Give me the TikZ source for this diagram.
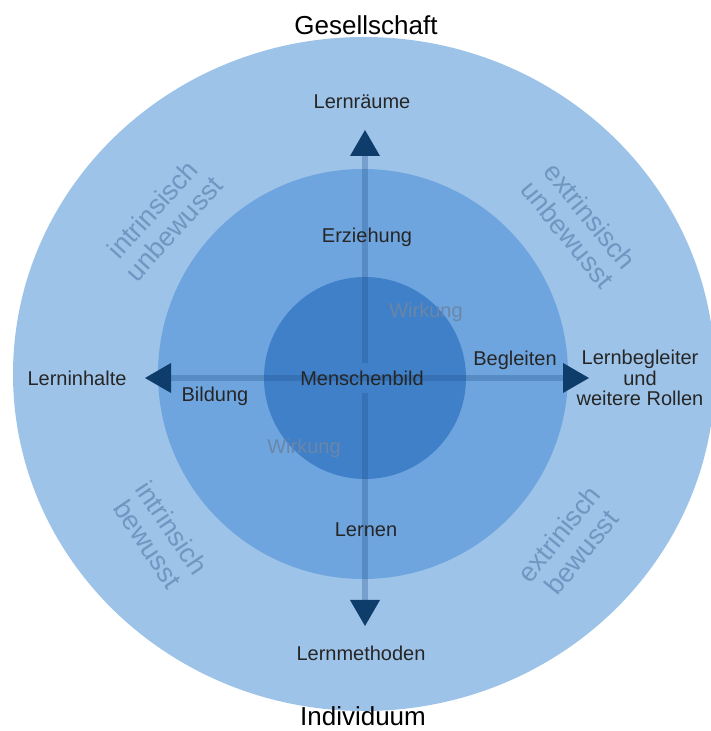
\documentclass[tikz,border=0pt]{standalone}
\usepackage{fontspec}
\setmainfont{Liberation Sans}
\usetikzlibrary{arrows.meta}

\definecolor{ringouter}{HTML}{9DC3E8}
\definecolor{ringmid}{HTML}{6FA5DF}
\definecolor{ringinner}{HTML}{3F80C8}
\definecolor{axisline}{HTML}{1E4F88}
\definecolor{tipblue}{HTML}{0F3D6B}
\definecolor{quadtext}{HTML}{7096C2}
\definecolor{effect}{HTML}{6A86A8}

\begin{document}
\begin{tikzpicture}[x=1pt,y=1pt,
  lbl/.style={font=\fontsize{20}{20.5}\selectfont, text=black!85, inner sep=0pt, align=center},
  big/.style={font=\fontsize{26}{28}\selectfont, text=black, inner sep=0pt},
  quad/.style={font=\fontsize{27}{29}\selectfont, text=quadtext, align=center, inner sep=0pt},
  effectlbl/.style={font=\fontsize{20}{22}\selectfont, text=effect, inner sep=0pt},
  axis/.style={line width=6pt, draw=axisline, draw opacity=0.3,
    -{Triangle[length=26pt,width=30pt,line width=0pt,color=tipblue,fill=tipblue]}}]

\useasboundingbox (0,0) rectangle (710,731);

% three nested rings
\fill[ringouter] (364,357) ellipse [x radius=351, y radius=337];
\fill[ringmid] (363,357) circle [radius=205];
\fill[ringinner] (365,353) circle [radius=101];

% centre and the four axis ends
\node[lbl, minimum height=29pt, text depth=0pt] (mb) at (362,353) {};
\coordinate (up) at (365,601);
\coordinate (down) at (365,105);
\coordinate (left) at (145,353);
\coordinate (right) at (589,353);

% axes
\draw[axis] (mb.center) -- (left);
\draw[axis] (mb.center) -- (right);
\draw[axis] (365,353 |- mb.north) -- (up);
\draw[axis] (365,353 |- mb.south) -- (down);

% central label
\node[lbl] (mtext) at (mb.center) {Menschenbild};

% outer titles
\node[big] (soc) at (366,706) {Gesellschaft};
\node[big] (ind) at (363,15) {Individuum};

% axis end labels
\node[lbl] (raum) at (362,629) {Lernräume};
\node[lbl] (meth) at (361,78) {Lernmethoden};
\node[lbl] (inh) at (77,353) {Lerninhalte};
\node[lbl] (rollen) at (640,353) {Lernbegleiter\\und\\weitere Rollen};

% labels of the middle ring
\node[lbl] (erz) at (367,494) {Erziehung};
\node[lbl] (lern) at (366,201) {Lernen};
\node[lbl] (bild) at (215,335) {Bildung};
\node[lbl] (begl) at (515,371) {Begleiten};

% effect labels
\node[effectlbl] (wirk1) at (426,419) {Wirkung};
\node[effectlbl] (wirk2) at (304,283) {Wirkung};

% quadrant labels
\node[quad, rotate=48] (q1) at (163,512) {intrinsisch\\unbewusst};
\node[quad, rotate=-51] (q2) at (579,506) {extrinsisch\\unbewusst};
\node[quad, rotate=-56] (q3) at (160,195) {intrinsich\\bewusst};
\node[quad, rotate=51] (q4) at (570,188) {extrinisch\\bewusst};

\end{tikzpicture}
\end{document}
